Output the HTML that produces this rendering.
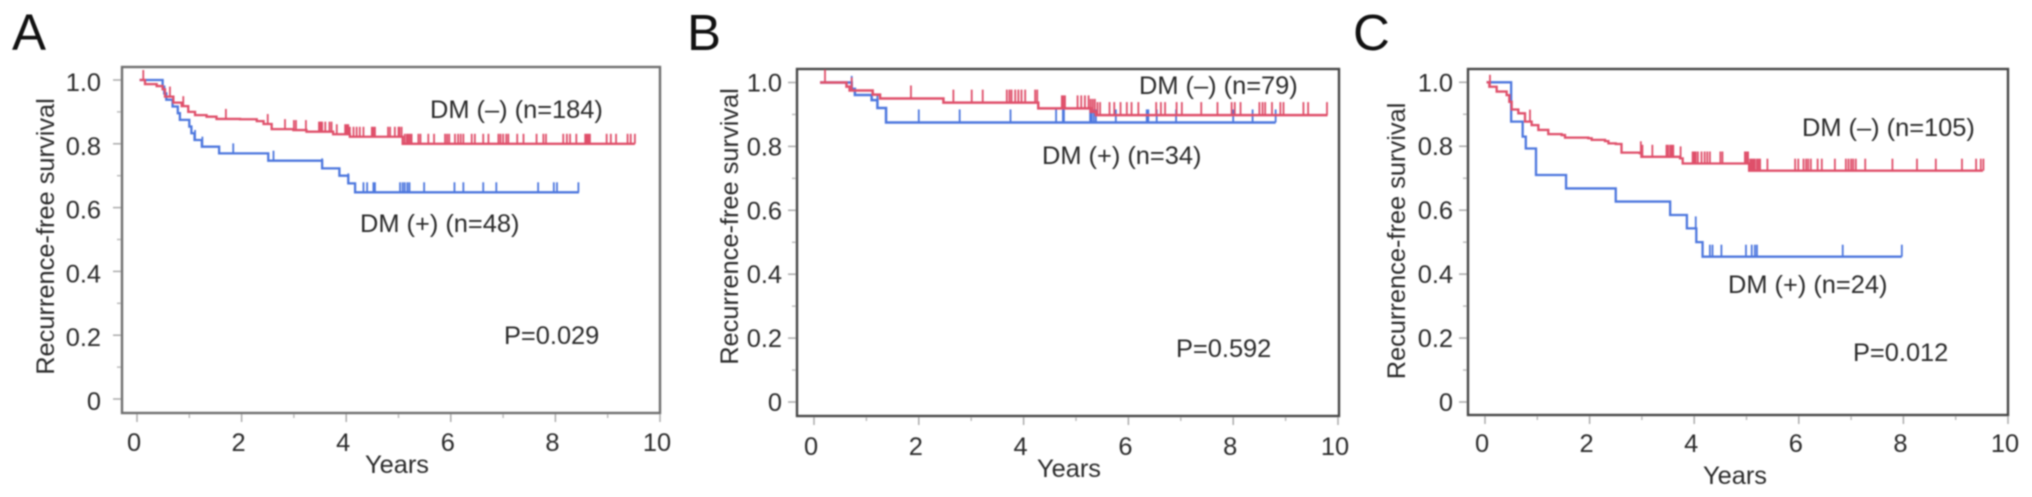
<!DOCTYPE html>
<html lang="en">
<head>
<meta charset="utf-8">
<title>Recurrence-free survival by DM status</title>
<style>
  html, body { margin: 0; padding: 0; background: #fff; }
  body { width: 2032px; height: 497px; overflow: hidden; }
  svg { display: block; filter: blur(0.75px); }
  text { font-family: "Liberation Sans", sans-serif; fill: #2a2a2a; font-size: 25.4px; }
  .letter { font-size: 51px; fill: #111; }
</style>
</head>
<body>
<svg id="figure" width="2032" height="497" viewBox="0 0 2032 497" xmlns="http://www.w3.org/2000/svg">
  <rect width="2032" height="497" fill="#fff"/>

  <g id="panel-a">
    <text class="letter" x="12" y="50">A</text>
    <text text-anchor="middle" transform="translate(54,236.5) rotate(-90)">Recurrence-free survival</text>
    <text text-anchor="middle" x="397" y="473">Years</text>
    <text x="430" y="118">DM (–) (n=184)</text>
    <text x="360" y="232">DM (+) (n=48)</text>
    <text x="504" y="344">P=0.029</text>
  </g>

  <g id="panel-b">
    <text class="letter" x="687" y="50">B</text>
    <text text-anchor="middle" transform="translate(738,226.5) rotate(-90)">Recurrence-free survival</text>
    <text text-anchor="middle" x="1069" y="477">Years</text>
    <text x="1139" y="94">DM (–) (n=79)</text>
    <text x="1042" y="164">DM (+) (n=34)</text>
    <text x="1176" y="357">P=0.592</text>
  </g>

  <g id="panel-c">
    <text class="letter" x="1353" y="50">C</text>
    <text text-anchor="middle" transform="translate(1405,241) rotate(-90)">Recurrence-free survival</text>
    <text text-anchor="middle" x="1735" y="484">Years</text>
    <text x="1802" y="136">DM (–) (n=105)</text>
    <text x="1728" y="293">DM (+) (n=24)</text>
    <text x="1853" y="361">P=0.012</text>
  </g>
</svg>

<script>
// Shared axis tick values
const xTickValues = [0, 2, 4, 6, 8, 10];
const xTickLabels = ["0", "2", "4", "6", "8", "10"];
const yTickValues = [0, 0.2, 0.4, 0.6, 0.8, 1.0];
const yTickLabels = ["0", "0.2", "0.4", "0.6", "0.8", "1.0"];
const xMinorValues = [1, 3, 5, 7, 9];
const yMinorValues = [0.1, 0.3, 0.5, 0.7, 0.9];

// Panel A: step times (years) and survival values
const aBlueTimes = [0.05, 0.49, 0.52, 0.56, 0.68, 0.78, 0.82, 1.0, 1.04, 1.1, 1.24, 1.57, 2.51, 3.54, 3.87, 4.04, 4.17];
const aBlueValues = [1, 0.979, 0.958, 0.938, 0.917, 0.896, 0.875, 0.854, 0.833, 0.812, 0.791, 0.77, 0.747, 0.723, 0.7, 0.676, 0.648];
const aBlueEnd = 8.45;
const aBlueCensors = [1.11, 1.25, 1.84, 2.61, 3.54, 4.04, 4.33, 4.4, 4.52, 4.55, 5.03, 5.08, 5.12, 5.17, 5.21, 5.49, 6.07, 6.24, 6.62, 6.87, 7.67, 7.97, 8.03, 8.44];
const aRedTimes = [0.05, 0.153, 0.376, 0.49, 0.535, 0.695, 0.855, 0.98, 1.11, 1.33, 1.52, 1.97, 2.29, 2.42, 2.575, 2.99, 3.24, 3.75, 4.07, 5.08];
const aRedValues = [1, 0.987, 0.981, 0.971, 0.948, 0.929, 0.918, 0.9, 0.89, 0.885, 0.878, 0.877, 0.871, 0.862, 0.846, 0.843, 0.838, 0.83, 0.822, 0.8];
const aRedEnd = 9.52;
const aRedCensors = [0.12, 0.63, 0.885, 1.7, 2.5, 2.83, 3.0, 3.04, 3.23, 3.48, 3.5, 3.52, 3.54, 3.6, 3.68, 3.72, 3.82, 3.98, 4.01, 4.04, 4.07, 4.14, 4.2, 4.26, 4.33, 4.49, 4.52, 4.55, 4.8, 4.84, 4.93, 5.0, 5.02, 5.06, 5.12, 5.16, 5.19, 5.22, 5.25, 5.38, 5.42, 5.57, 5.68, 5.89, 5.93, 5.97, 6.08, 6.14, 6.19, 6.24, 6.4, 6.46, 6.62, 6.72, 6.91, 6.95, 7.0, 7.06, 7.1, 7.27, 7.39, 7.64, 7.77, 7.82, 8.15, 8.22, 8.28, 8.4, 8.57, 8.6, 8.63, 8.66, 8.98, 9.06, 9.16, 9.38, 9.44, 9.52];

// Panel B
const bBlueTimes = [0.115, 0.72, 0.78, 1.1, 1.21, 1.375];
const bBlueValues = [1, 0.98, 0.961, 0.945, 0.92, 0.875];
const bBlueEnd = 8.81;
const bBlueCensors = [0.72, 1.21, 2.0, 2.78, 3.75, 4.62, 4.75, 4.77, 5.27, 5.3, 5.34, 5.38, 5.76, 6.35, 6.38, 6.54, 6.91, 8.0, 8.37, 8.81];
const bRedTimes = [0.115, 0.62, 0.68, 1.12, 1.26, 2.47, 4.28, 5.28, 5.38];
const bRedValues = [1, 0.987, 0.975, 0.962, 0.95, 0.937, 0.919, 0.908, 0.898];
const bRedEnd = 9.8;
const bRedCensors = [0.21, 0.72, 1.85, 2.66, 3.01, 3.22, 3.68, 3.73, 3.77, 3.84, 3.9, 3.96, 4.03, 4.22, 4.26, 4.73, 4.76, 4.79, 5.03, 5.1, 5.17, 5.24, 5.28, 5.32, 5.36, 5.41, 5.46, 5.64, 5.73, 5.85, 5.97, 6.06, 6.19, 6.53, 6.62, 6.7, 6.92, 7.02, 7.39, 7.7, 7.97, 8.03, 8.14, 8.5, 8.56, 8.61, 8.74, 8.9, 8.96, 9.34, 9.43, 9.79];

// Panel C
const cBlueTimes = [0.03, 0.5, 0.72, 0.78, 0.975, 1.55, 2.5, 3.54, 3.86, 4.04, 4.16];
const cBlueValues = [1, 0.877, 0.83, 0.793, 0.71, 0.668, 0.627, 0.585, 0.543, 0.5, 0.4545];
const cBlueEnd = 7.97;
const cBlueCensors = [4.03, 4.3, 4.35, 4.52, 4.99, 5.1, 5.16, 5.2, 6.84, 7.97];
const cRedTimes = [0.03, 0.083, 0.223, 0.414, 0.465, 0.51, 0.637, 0.765, 0.892, 1.02, 1.21, 1.466, 1.53, 1.975, 2.04, 2.295, 2.36, 2.5, 2.61, 2.96, 2.99, 3.44, 3.73, 3.78, 5.05];
const cRedValues = [1, 0.986, 0.971, 0.96, 0.939, 0.915, 0.903, 0.877, 0.866, 0.851, 0.838, 0.835, 0.827, 0.825, 0.82, 0.816, 0.809, 0.807, 0.78, 0.778, 0.767, 0.767, 0.762, 0.746, 0.7235];
const cRedEnd = 9.52;
const cRedCensors = [0.095, 0.86, 2.98, 3.01, 3.2, 3.47, 3.5, 3.54, 3.57, 3.6, 3.74, 3.97, 4.0, 4.03, 4.07, 4.14, 4.2, 4.25, 4.3, 4.5, 4.54, 4.97, 5.0, 5.03, 5.07, 5.1, 5.13, 5.16, 5.2, 5.23, 5.26, 5.4, 5.93, 5.99, 6.09, 6.14, 6.18, 6.23, 6.36, 6.44, 6.69, 6.9, 6.95, 7.0, 7.04, 7.09, 7.27, 7.79, 8.26, 8.62, 9.12, 9.39, 9.48, 9.53];

const NS = "http://www.w3.org/2000/svg";
const RED = "#df4f6a";
const BLUE = "#4d77de";

function svgEl(tag, parent) {
  const el = document.createElementNS(NS, tag);
  parent.appendChild(el);
  return el;
}

function seg(parent, x1, y1, x2, y2, color, width) {
  const l = svgEl("line", parent);
  l.setAttribute("x1", x1);
  l.setAttribute("y1", y1);
  l.setAttribute("x2", x2);
  l.setAttribute("y2", y2);
  l.setAttribute("stroke", color);
  l.setAttribute("stroke-width", width);
  return l;
}

function valueAt(times, values, t) {
  let v = values[0];
  for (let i = 0; i < times.length; i++) {
    if (times[i] <= t) v = values[i];
  }
  return v;
}

function drawSeries(g, name, color, times, values, end, censors, xScale, yScale, tickH, width) {
  let d = "M" + xScale(times[0]) + " " + yScale(values[0]);
  for (let i = 1; i < times.length; i++) {
    d += " H" + xScale(times[i]) + " V" + yScale(values[i]);
  }
  d += " H" + xScale(end);
  const path = svgEl("path", g);
  
  
  path.setAttribute("d", d);
  path.setAttribute("fill", "none");
  path.setAttribute("stroke", color);
  path.setAttribute("stroke-width", width);
  censors.forEach(function (t) {
    const y = yScale(valueAt(times, values, t));
    const mark = seg(g, xScale(t), y, xScale(t), y - tickH, color, 1.8);
    
    
  });
}

function drawPanel(id, s) {
  const g = document.getElementById(id);
  const xScale = function (t) { return s.x0 + (s.x10 - s.x0) * t / 10; };
  const yScale = function (v) { return s.y0 + (s.y1 - s.y0) * v; };

  const frame = svgEl("rect", g);
  
  
  frame.setAttribute("x", s.left);
  frame.setAttribute("y", s.top);
  frame.setAttribute("width", s.right - s.left);
  frame.setAttribute("height", s.bottom - s.top);
  frame.setAttribute("fill", "none");
  frame.setAttribute("stroke", s.frameColor);
  frame.setAttribute("stroke-width", 2.4);

  xTickValues.forEach(function (v, i) {
    const mark = seg(g, xScale(v), s.bottom + 1, xScale(v), s.bottom + 9, "#aaa", 1.5);
    
    
    const label = svgEl("text", g);
    
    
    label.setAttribute("x", xScale(v) - 3);
    label.setAttribute("y", s.xLabelY);
    label.setAttribute("text-anchor", "middle");
    label.textContent = xTickLabels[i];
  });
  xMinorValues.forEach(function (v) {
    const mark = seg(g, xScale(v), s.bottom + 1, xScale(v), s.bottom + 5, "#bbb", 1.5);
    
    
  });
  yTickValues.forEach(function (v, i) {
    const mark = seg(g, s.left - 9, yScale(v), s.left - 1, yScale(v), "#aaa", 1.5);
    
    
    const label = svgEl("text", g);
    
    
    label.setAttribute("x", s.yLabelX);
    label.setAttribute("y", yScale(v) + s.yLabelShift);
    label.setAttribute("text-anchor", "end");
    label.textContent = yTickLabels[i];
  });
  yMinorValues.forEach(function (v) {
    const mark = seg(g, s.left - 5, yScale(v), s.left - 1, yScale(v), "#bbb", 1.5);
    
    
  });

  drawSeries(g, "dm-positive", BLUE, s.blueT, s.blueV, s.blueEnd, s.blueC, xScale, yScale, s.tickH, s.width);
  drawSeries(g, "dm-negative", RED, s.redT, s.redV, s.redEnd, s.redC, xScale, yScale, s.tickH, s.width);
}

drawPanel("panel-a", {
  left: 122, right: 660, top: 67, bottom: 413,
  x0: 137, x10: 660, y0: 399, y1: 80,
  xLabelY: 451, yLabelX: 101, yLabelShift: 11, frameColor: "#707070", tickH: 10, width: 2.3,
  blueT: aBlueTimes, blueV: aBlueValues, blueEnd: aBlueEnd, blueC: aBlueCensors,
  redT: aRedTimes, redV: aRedValues, redEnd: aRedEnd, redC: aRedCensors
});
drawPanel("panel-b", {
  left: 797, right: 1339, top: 69, bottom: 416,
  x0: 814, x10: 1338, y0: 402, y1: 82.5,
  xLabelY: 455, yLabelX: 782, yLabelShift: 9, frameColor: "#484848", tickH: 13, width: 2.5,
  blueT: bBlueTimes, blueV: bBlueValues, blueEnd: bBlueEnd, blueC: bBlueCensors,
  redT: bRedTimes, redV: bRedValues, redEnd: bRedEnd, redC: bRedCensors
});
drawPanel("panel-c", {
  left: 1468, right: 2008, top: 69, bottom: 415,
  x0: 1485, x10: 2008, y0: 402, y1: 82.3,
  xLabelY: 452, yLabelX: 1453, yLabelShift: 9, frameColor: "#484848", tickH: 12, width: 2.3,
  blueT: cBlueTimes, blueV: cBlueValues, blueEnd: cBlueEnd, blueC: cBlueCensors,
  redT: cRedTimes, redV: cRedValues, redEnd: cRedEnd, redC: cRedCensors
});
</script>
</body>
</html>
